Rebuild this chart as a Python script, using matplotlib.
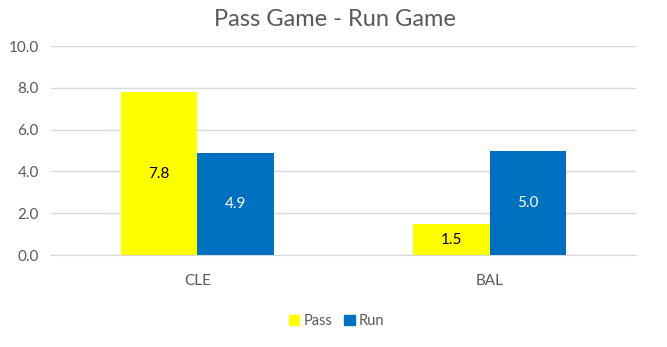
import numpy as np
import matplotlib
matplotlib.use("Agg")
import matplotlib.pyplot as plt
from matplotlib.patches import Patch

# chart data
teams = ["CLE", "BAL"]
pass_vals = [7.8, 1.48]
run_vals = [4.87, 4.97]
series_names = ["Pass", "Run"]

plt.rcParams['font.family'] = ['Lato', 'DejaVu Sans']

fig = plt.figure(figsize=(6.67, 3.47), dpi=100)
ax = fig.add_axes([0.0772, 0.265, 0.8756, 0.602])

x = np.arange(len(teams))
w = 0.263
colors = ["#FFFF00", "#0070C0"]
txt_colors = ["black", "white"]

for i, (vals, col, tc) in enumerate(zip([pass_vals, run_vals], colors, txt_colors)):
    offs = (i - 0.5) * w
    bars = ax.bar(x + offs, vals, width=w, color=col, zorder=3)
    for b, v in zip(bars, vals):
        ax.text(b.get_x() + b.get_width() / 2, v / 2, f"{v:.1f}",
                ha="center", va="center", color=tc, fontsize=11, zorder=4)

ax.set_xlim(-0.5, 1.5)
ax.set_ylim(0, 10)
ax.set_yticks(np.arange(0, 10.1, 2))
ax.set_yticklabels([f"{t:.1f}" for t in np.arange(0, 10.1, 2)])
ax.set_xticks(x)
ax.set_xticklabels(teams)
ax.tick_params(length=0, labelsize=11, labelcolor="#595959")
ax.tick_params(axis="x", pad=14)
ax.tick_params(axis="y", pad=9)
ax.grid(axis="y", color="#d9d9d9", linewidth=1, zorder=0)
for s in ["top", "right", "left"]:
    ax.spines[s].set_visible(False)
ax.spines["bottom"].set_color("#d9d9d9")

fig.text(0.502, 0.945, "Pass Game - Run Game", ha="center", va="center",
         fontsize=17, color="#595959")

handles = [Patch(color=c) for c in colors]
fig.legend(handles, series_names, loc="center", bbox_to_anchor=(0.505, 0.075),
           ncol=2, frameon=False, fontsize=10.5, labelcolor="#595959",
           handlelength=0.7, handleheight=0.7, handletextpad=0.3, columnspacing=0.8)

fig.savefig("out.png", dpi=100)
